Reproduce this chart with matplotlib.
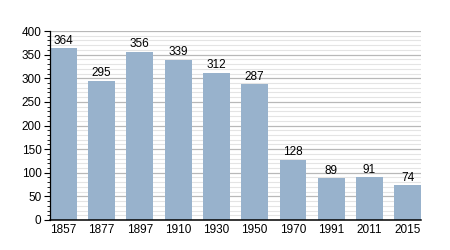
import matplotlib
matplotlib.use('Agg')
import matplotlib.pyplot as plt
from matplotlib.ticker import MultipleLocator

# données
years = ['1857', '1877', '1897', '1910', '1930', '1950', '1970', '1991', '2011', '2015']
population = [364, 295, 356, 339, 312, 287, 128, 89, 91, 74]

plt.rcParams['font.family'] = ['Liberation Sans', 'DejaVu Sans']

fig = plt.figure(figsize=(4.5, 2.5), dpi=100)
ax = fig.add_axes([0.111, 0.12, 0.825, 0.756])

x = list(range(len(years)))
w = 0.7
ax.bar(x, population, width=w, color='#98b2cc', zorder=2)

for xi, v in zip(x, population):
    ax.text(xi, v + 3, str(v), ha='center', va='bottom', fontsize=8.5, zorder=4)

ax.set_xlim(-w / 2, len(years) - 1 + w / 2)
ax.set_ylim(0, 400)
ax.set_xticks(x)
ax.set_xticklabels(years, fontsize=8.5)
ax.tick_params(axis='x', length=0, pad=3)

ax.yaxis.set_major_locator(MultipleLocator(50))
ax.yaxis.set_minor_locator(MultipleLocator(10))
ax.tick_params(axis='y', which='major', length=4, width=0.8, labelsize=8.5, pad=2)
ax.tick_params(axis='y', which='minor', length=2, width=0.6)

ax.grid(axis='y', which='major', color='#b8b8b8', linewidth=0.9, zorder=0)
ax.grid(axis='y', which='minor', color='#e4e4e4', linewidth=0.8, zorder=0)

for s in ['top', 'right']:
    ax.spines[s].set_visible(False)
ax.spines['left'].set_linewidth(0.9)
ax.spines['bottom'].set_linewidth(1.1)
ax.spines['left'].set_zorder(5)
ax.spines['bottom'].set_zorder(5)

fig.savefig('out.png', dpi=100)
